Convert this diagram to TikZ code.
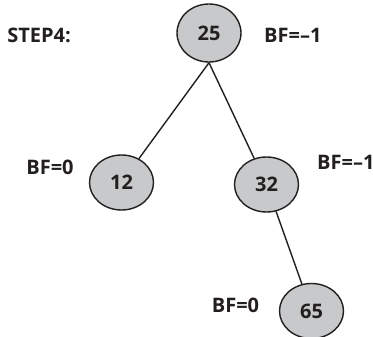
\documentclass[tikz,border=0pt]{standalone}
\usepackage{fontspec}
\setmainfont{Open Sans}
\usepackage{tikz}
\usetikzlibrary{shapes.geometric,positioning}
\definecolor{keygray}{RGB}{200,201,202}
\definecolor{inkblack}{RGB}{35,31,32}
\tikzset{
  keynode/.style={ellipse,draw=inkblack,fill=keygray,line width=1.4pt,
    minimum width=64pt,minimum height=55pt,inner sep=0pt,
    font=\fontsize{20}{20}\selectfont\bfseries,text=inkblack},
  bftext/.style={inner sep=0pt,font=\fontsize{20}{20}\selectfont\bfseries,text=inkblack},
  treeedge/.style={draw=inkblack,line width=1.4pt}
}
\newcommand{\bflabel}[3]{\node[bftext,#1] (#2) {#3};}
\begin{document}
\begin{tikzpicture}[x=1pt,y=-1pt]
\useasboundingbox (0,0) rectangle (373,337);
% keys
\node[keynode,minimum height=58pt] (n25) at (209,33) {25};
\node[keynode] (n12) at (121.5,182.5) {12};
\node[keynode] (n32) at (266.5,184.5) {32};
\node[keynode] (n65) at (311.5,311) {65};
% balance factors
\bflabel{at={(39,35.5)}}{step}{STEP4:}
\bflabel{anchor=west,at={(264,35.5)}}{bf25}{BF=--1}
\bflabel{at={(50,167)}}{bf12}{BF=0}
\bflabel{anchor=west,at={(317,162.5)}}{bf32}{BF=--1}
\bflabel{at={(235.5,305)}}{bf65}{BF=0}
% edges
\draw[treeedge] (n25.south) -- (n12);
\draw[treeedge] (n25.south) -- (n32);
\draw[treeedge] (n32) -- (n65);
\end{tikzpicture}
\end{document}
